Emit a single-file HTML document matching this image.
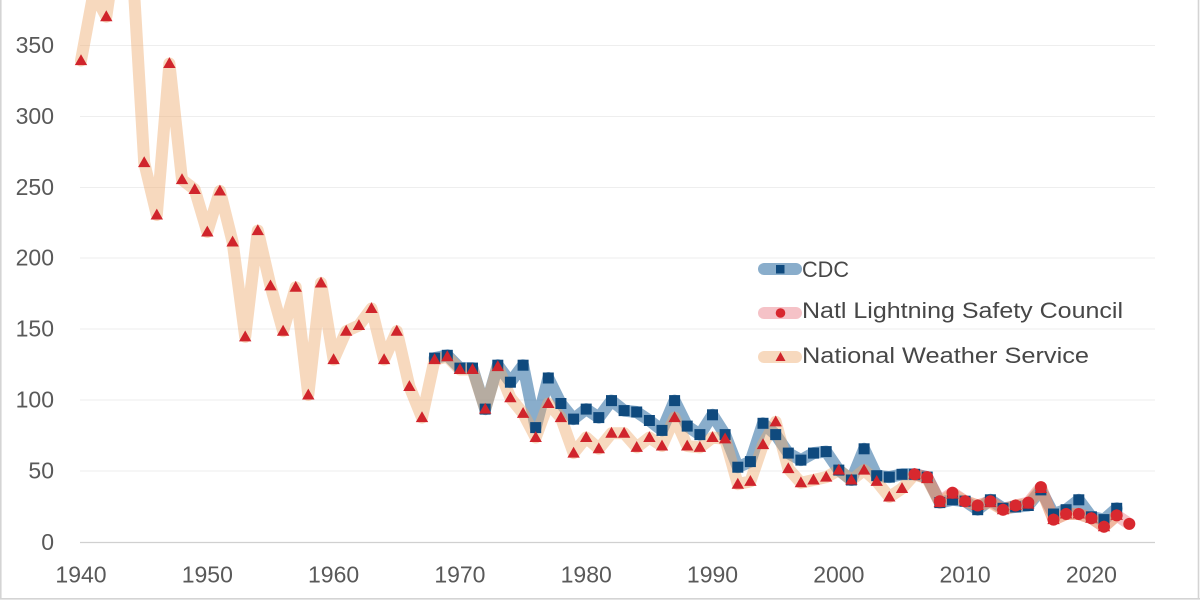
<!DOCTYPE html>
<html><head><meta charset="utf-8"><style>
html,body{margin:0;padding:0;background:#fff;}
svg{display:block;}
text{font-family:"Liberation Sans",Arial,sans-serif;}
</style></head><body>
<svg width="1200" height="600" viewBox="0 0 1200 600" xmlns="http://www.w3.org/2000/svg">
<defs>
<rect id="sq" x="-5.5" y="-5.5" width="11" height="11" fill="#0F4A7E"/>
<path id="tri" d="M0,-6.4 L6.2,4.5 L-6.2,4.5 Z" fill="#D0242B"/>
<circle id="ci" r="6" cx="0" cy="0" fill="#D8282F"/>
</defs>
<rect x="0" y="0" width="1200" height="600" fill="#fff"/>
<!-- frame -->
<line x1="0.8" y1="0" x2="0.8" y2="599" stroke="#d4d4d4" stroke-width="1.6"/>
<line x1="1198.5" y1="0" x2="1198.5" y2="599" stroke="#d4d4d4" stroke-width="1.6"/>
<line x1="0" y1="598.8" x2="1200" y2="598.8" stroke="#d4d4d4" stroke-width="1.6"/>
<!-- gridlines -->
<g stroke="#eeeeee" stroke-width="1">
<line x1="80" y1="45.5" x2="1155" y2="45.5"/>
<line x1="80" y1="116.5" x2="1155" y2="116.5"/>
<line x1="80" y1="187.5" x2="1155" y2="187.5"/>
<line x1="80" y1="258" x2="1155" y2="258"/>
<line x1="80" y1="329" x2="1155" y2="329"/>
<line x1="80" y1="400" x2="1155" y2="400"/>
<line x1="80" y1="471" x2="1155" y2="471"/>
</g>
<line x1="80" y1="542.5" x2="1155" y2="542.5" stroke="#d0d0d0" stroke-width="1.3"/>
<!-- y labels -->
<g font-size="23" fill="#595959" text-anchor="end">
<text x="54" y="53">350</text>
<text x="54" y="124">300</text>
<text x="54" y="195">250</text>
<text x="54" y="265.5">200</text>
<text x="54" y="336.5">150</text>
<text x="54" y="407.5">100</text>
<text x="54" y="478.5">50</text>
<text x="54" y="550">0</text>
</g>
<!-- x labels -->
<g font-size="23" fill="#595959" text-anchor="middle">
<text x="81" y="582.5">1940</text>
<text x="207.3" y="582.5">1950</text>
<text x="333.6" y="582.5">1960</text>
<text x="459.9" y="582.5">1970</text>
<text x="586.2" y="582.5">1980</text>
<text x="712.5" y="582.5">1990</text>
<text x="838.8" y="582.5">2000</text>
<text x="965.1" y="582.5">2010</text>
<text x="1091.4" y="582.5">2020</text>
</g>
<!-- lines -->
<g fill="none" stroke-width="12" stroke-linejoin="round" stroke-linecap="round">
<polyline stroke="rgb(40,105,160)" stroke-opacity="0.55" points="434.6,358.1 447.3,355.3 459.9,368.1 472.5,368.1 485.2,409.1 497.8,365.2 510.4,382.2 523.1,365.2 535.7,427.6 548.3,378.0 560.9,403.5 573.6,419.1 586.2,409.1 598.8,417.6 611.5,400.6 624.1,410.6 636.7,412.0 649.4,420.5 662.0,430.4 674.6,400.6 687.2,426.1 699.9,434.6 712.5,414.8 725.1,434.6 737.8,467.2 750.4,461.6 763.0,423.3 775.7,434.6 788.3,453.1 800.9,460.1 813.5,453.1 826.2,451.6 838.8,470.1 851.4,480.0 864.1,448.8 876.7,475.7 889.3,477.1 902.0,474.3 914.6,474.3 927.2,477.1 939.8,502.6 952.5,499.8 965.1,501.2 977.7,509.7 990.4,499.8 1003.0,508.3 1015.6,506.9 1028.3,505.5 1040.9,489.9 1053.5,514.0 1066.1,509.7 1078.8,499.8 1091.4,516.8 1104.0,519.6 1116.7,508.3"/>
<polyline stroke="rgb(225,80,95)" stroke-opacity="0.35" points="914.6,474.3 927.2,477.1 939.8,501.2 952.5,492.7 965.1,501.2 977.7,505.5 990.4,501.2 1003.0,509.7 1015.6,505.5 1028.3,502.6 1040.9,487.1 1053.5,519.6 1066.1,514.0 1078.8,514.0 1091.4,518.2 1104.0,526.7 1116.7,515.4 1129.3,523.9"/>
<polyline stroke="rgb(238,170,110)" stroke-opacity="0.45" points="81,60.6 93.6,-7.4 106.3,16.7 118.9,-69.7 131.5,-51.3 144.2,162.6 156.8,215.0 169.4,63.5 182.0,179.6 194.7,189.5 207.3,232.0 219.9,191.0 232.6,242.0 245.2,336.9 257.8,230.6 270.5,285.9 283.1,331.2 295.7,287.3 308.3,395.0 321.0,283.0 333.6,359.6 346.2,331.2 358.9,325.5 371.5,308.5 384.1,359.6 396.8,331.2 409.4,386.5 422.0,417.6 434.6,359.6 447.3,356.7 459.9,369.5 472.5,369.5 485.2,409.1 497.8,366.6 510.4,397.8 523.1,413.4 535.7,437.5 548.3,403.5 560.9,417.6 573.6,453.1 586.2,437.5 598.8,448.8 611.5,433.2 624.1,433.2 636.7,447.4 649.4,437.5 662.0,446.0 674.6,417.6 687.2,446.0 699.9,447.4 712.5,437.5 725.1,438.9 737.8,484.2 750.4,481.4 763.0,444.6 775.7,421.9 788.3,468.6 800.9,482.8 813.5,480.0 826.2,477.1 838.8,470.1 851.4,480.0 864.1,470.1 876.7,481.4 889.3,497.0 902.0,488.5 914.6,474.3 927.2,478.6 939.8,502.6 952.5,494.1 965.1,501.2 977.7,505.5 990.4,502.6 1003.0,509.7 1015.6,505.5 1028.3,504.1 1040.9,488.5 1053.5,519.6 1066.1,514.0 1078.8,514.0 1091.4,518.2 1104.0,526.7 1116.7,515.4"/>
</g>
<!-- CDC markers -->
<g>
<use href="#sq" x="434.6" y="358.1"/><use href="#sq" x="447.3" y="355.3"/><use href="#sq" x="459.9" y="368.1"/><use href="#sq" x="472.5" y="368.1"/><use href="#sq" x="485.2" y="409.1"/><use href="#sq" x="497.8" y="365.2"/><use href="#sq" x="510.4" y="382.2"/><use href="#sq" x="523.1" y="365.2"/><use href="#sq" x="535.7" y="427.6"/><use href="#sq" x="548.3" y="378.0"/><use href="#sq" x="560.9" y="403.5"/><use href="#sq" x="573.6" y="419.1"/><use href="#sq" x="586.2" y="409.1"/><use href="#sq" x="598.8" y="417.6"/><use href="#sq" x="611.5" y="400.6"/><use href="#sq" x="624.1" y="410.6"/><use href="#sq" x="636.7" y="412.0"/><use href="#sq" x="649.4" y="420.5"/><use href="#sq" x="662.0" y="430.4"/><use href="#sq" x="674.6" y="400.6"/><use href="#sq" x="687.2" y="426.1"/><use href="#sq" x="699.9" y="434.6"/><use href="#sq" x="712.5" y="414.8"/><use href="#sq" x="725.1" y="434.6"/><use href="#sq" x="737.8" y="467.2"/><use href="#sq" x="750.4" y="461.6"/><use href="#sq" x="763.0" y="423.3"/><use href="#sq" x="775.7" y="434.6"/><use href="#sq" x="788.3" y="453.1"/><use href="#sq" x="800.9" y="460.1"/><use href="#sq" x="813.5" y="453.1"/><use href="#sq" x="826.2" y="451.6"/><use href="#sq" x="838.8" y="470.1"/><use href="#sq" x="851.4" y="480.0"/><use href="#sq" x="864.1" y="448.8"/><use href="#sq" x="876.7" y="475.7"/><use href="#sq" x="889.3" y="477.1"/><use href="#sq" x="902.0" y="474.3"/><use href="#sq" x="914.6" y="474.3"/><use href="#sq" x="927.2" y="477.1"/><use href="#sq" x="939.8" y="502.6"/><use href="#sq" x="952.5" y="499.8"/><use href="#sq" x="965.1" y="501.2"/><use href="#sq" x="977.7" y="509.7"/><use href="#sq" x="990.4" y="499.8"/><use href="#sq" x="1003.0" y="508.3"/><use href="#sq" x="1015.6" y="506.9"/><use href="#sq" x="1028.3" y="505.5"/><use href="#sq" x="1040.9" y="489.9"/><use href="#sq" x="1053.5" y="514.0"/><use href="#sq" x="1066.1" y="509.7"/><use href="#sq" x="1078.8" y="499.8"/><use href="#sq" x="1091.4" y="516.8"/><use href="#sq" x="1104.0" y="519.6"/><use href="#sq" x="1116.7" y="508.3"/>
</g>
<!-- NWS markers -->
<g>
<use href="#tri" x="81" y="60.6"/><use href="#tri" x="93.6" y="-7.4"/><use href="#tri" x="106.3" y="16.7"/><use href="#tri" x="144.2" y="162.6"/><use href="#tri" x="156.8" y="215.0"/><use href="#tri" x="169.4" y="63.5"/><use href="#tri" x="182.0" y="179.6"/><use href="#tri" x="194.7" y="189.5"/><use href="#tri" x="207.3" y="232.0"/><use href="#tri" x="219.9" y="191.0"/><use href="#tri" x="232.6" y="242.0"/><use href="#tri" x="245.2" y="336.9"/><use href="#tri" x="257.8" y="230.6"/><use href="#tri" x="270.5" y="285.9"/><use href="#tri" x="283.1" y="331.2"/><use href="#tri" x="295.7" y="287.3"/><use href="#tri" x="308.3" y="395.0"/><use href="#tri" x="321.0" y="283.0"/><use href="#tri" x="333.6" y="359.6"/><use href="#tri" x="346.2" y="331.2"/><use href="#tri" x="358.9" y="325.5"/><use href="#tri" x="371.5" y="308.5"/><use href="#tri" x="384.1" y="359.6"/><use href="#tri" x="396.8" y="331.2"/><use href="#tri" x="409.4" y="386.5"/><use href="#tri" x="422.0" y="417.6"/><use href="#tri" x="434.6" y="359.6"/><use href="#tri" x="447.3" y="356.7"/><use href="#tri" x="459.9" y="369.5"/><use href="#tri" x="472.5" y="369.5"/><use href="#tri" x="485.2" y="409.1"/><use href="#tri" x="497.8" y="366.6"/><use href="#tri" x="510.4" y="397.8"/><use href="#tri" x="523.1" y="413.4"/><use href="#tri" x="535.7" y="437.5"/><use href="#tri" x="548.3" y="403.5"/><use href="#tri" x="560.9" y="417.6"/><use href="#tri" x="573.6" y="453.1"/><use href="#tri" x="586.2" y="437.5"/><use href="#tri" x="598.8" y="448.8"/><use href="#tri" x="611.5" y="433.2"/><use href="#tri" x="624.1" y="433.2"/><use href="#tri" x="636.7" y="447.4"/><use href="#tri" x="649.4" y="437.5"/><use href="#tri" x="662.0" y="446.0"/><use href="#tri" x="674.6" y="417.6"/><use href="#tri" x="687.2" y="446.0"/><use href="#tri" x="699.9" y="447.4"/><use href="#tri" x="712.5" y="437.5"/><use href="#tri" x="725.1" y="438.9"/><use href="#tri" x="737.8" y="484.2"/><use href="#tri" x="750.4" y="481.4"/><use href="#tri" x="763.0" y="444.6"/><use href="#tri" x="775.7" y="421.9"/><use href="#tri" x="788.3" y="468.6"/><use href="#tri" x="800.9" y="482.8"/><use href="#tri" x="813.5" y="480.0"/><use href="#tri" x="826.2" y="477.1"/><use href="#tri" x="838.8" y="470.1"/><use href="#tri" x="851.4" y="480.0"/><use href="#tri" x="864.1" y="470.1"/><use href="#tri" x="876.7" y="481.4"/><use href="#tri" x="889.3" y="497.0"/><use href="#tri" x="902.0" y="488.5"/><use href="#tri" x="914.6" y="474.3"/><use href="#tri" x="927.2" y="478.6"/><use href="#tri" x="939.8" y="502.6"/><use href="#tri" x="952.5" y="494.1"/><use href="#tri" x="965.1" y="501.2"/><use href="#tri" x="977.7" y="505.5"/><use href="#tri" x="990.4" y="502.6"/><use href="#tri" x="1003.0" y="509.7"/><use href="#tri" x="1015.6" y="505.5"/><use href="#tri" x="1028.3" y="504.1"/><use href="#tri" x="1040.9" y="488.5"/><use href="#tri" x="1053.5" y="519.6"/><use href="#tri" x="1066.1" y="514.0"/><use href="#tri" x="1078.8" y="514.0"/><use href="#tri" x="1091.4" y="518.2"/><use href="#tri" x="1104.0" y="526.7"/><use href="#tri" x="1116.7" y="515.4"/>
</g>
<!-- NLSC markers -->
<g>
<use href="#ci" x="914.6" y="474.3"/><use href="#ci" x="927.2" y="477.1"/><use href="#ci" x="939.8" y="501.2"/><use href="#ci" x="952.5" y="492.7"/><use href="#ci" x="965.1" y="501.2"/><use href="#ci" x="977.7" y="505.5"/><use href="#ci" x="990.4" y="501.2"/><use href="#ci" x="1003.0" y="509.7"/><use href="#ci" x="1015.6" y="505.5"/><use href="#ci" x="1028.3" y="502.6"/><use href="#ci" x="1040.9" y="487.1"/><use href="#ci" x="1053.5" y="519.6"/><use href="#ci" x="1066.1" y="514.0"/><use href="#ci" x="1078.8" y="514.0"/><use href="#ci" x="1091.4" y="518.2"/><use href="#ci" x="1104.0" y="526.7"/><use href="#ci" x="1116.7" y="515.4"/><use href="#ci" x="1129.3" y="523.9"/>
</g>
<!-- legend -->
<g stroke-width="12" stroke-linecap="round">
<line x1="764" y1="269" x2="796" y2="269" stroke="rgb(40,105,160)" stroke-opacity="0.55"/>
<line x1="764" y1="313" x2="796" y2="313" stroke="rgb(225,80,95)" stroke-opacity="0.35"/>
<line x1="764" y1="357" x2="796" y2="357" stroke="rgb(238,170,110)" stroke-opacity="0.45"/>
</g>
<rect x="776" y="265" width="8.5" height="8.5" fill="#0F4A7E"/>
<circle cx="780.5" cy="313" r="4.8" fill="#D8282F"/>
<path d="M780.5,352 L785.5,361 L775.5,361 Z" fill="#D0242B"/>
<g font-size="22" fill="#474747">
<text x="802" y="277" textLength="47" lengthAdjust="spacingAndGlyphs">CDC</text>
<text x="802" y="318" textLength="321" lengthAdjust="spacingAndGlyphs">Natl Lightning Safety Council</text>
<text x="802" y="363" textLength="287" lengthAdjust="spacingAndGlyphs">National Weather Service</text>
</g>
</svg>
</body></html>
